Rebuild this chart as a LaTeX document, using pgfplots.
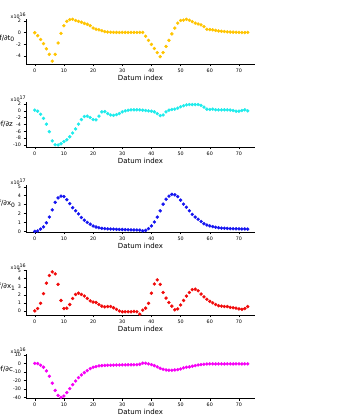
\documentclass[border=0pt]{standalone}
\usepackage{fontspec}
\setmainfont{DejaVu Sans}
\usepackage{pgfplots}
\pgfplotsset{compat=1.18}
\definecolor{cgold}{RGB}{255,196,0}
\definecolor{ccyan}{RGB}{30,235,235}
\definecolor{cblue}{RGB}{20,20,240}
\definecolor{cred}{RGB}{240,10,10}
\definecolor{cmag}{RGB}{245,0,245}
\newcommand{\ticksize}{\fontsize{4.8}{5}\selectfont}
\newcommand{\labsize}{\fontsize{7}{8}\selectfont}
\pgfplotsset{
  panel/.style={
    scale only axis, width=229pt, anchor=south west,
    axis lines=left, axis line style={-, line width=0.6pt},
    tick align=outside, major tick length=2.5pt,
    tick style={line width=0.5pt, black},
    xmin=-3, xmax=75.5, xtick={0,10,...,70},
    scaled ticks=false,
    tick label style={font=\ticksize},
    xticklabel style={yshift=1pt},
    yticklabel style={xshift=1pt},
    /pgf/number format/assume math mode=true,
    xlabel={Datum index},
    xlabel style={font=\labsize, yshift=4pt},
    only marks, mark=*, mark size=1.5pt, clip=false,
  },
}
\newcommand{\mult}[1]{\node[anchor=south east, inner sep=0pt, font=\ticksize] at (rel axis cs:0,1) {x10\raisebox{2.5pt}{#1}};}
\newcommand{\ylab}[2]{\node[anchor=center, inner sep=0pt, font=\labsize] at ([xshift=-21pt]rel axis cs:0,#1) {#2};}
\newcommand{\sub}[1]{\raisebox{-1.8pt}{\fontsize{6}{6}\selectfont #1}}

\begin{document}
\begin{tikzpicture}

% panel 1
\begin{axis}[panel, at={(26pt,353pt)}, height=45pt, ymin=-5.35, ymax=2.35, ytick={-4,-2,0,2}]
\addplot[mark=*, mark options={fill=cgold, draw=cgold}] coordinates {
(0,0) (1,-0.5) (2,-1.15) (3,-1.85) (4,-2.75) (5,-3.7) (6,-4.85) (7,-3.7) (8,-1.75) (9,-0.1)
(10,1.2) (11,1.95) (12,2.25) (13,2.3) (14,2.1) (15,1.95) (16,1.8) (17,1.6) (18,1.45) (19,1.2)
(20,0.8) (21,0.6) (22,0.5) (23,0.35) (24,0.2) (25,0.12) (26,0.08) (27,0.06) (28,0.05) (29,0.05)
(30,0.05) (31,0.05) (32,0.05) (33,0.05) (34,0.05) (35,0.05) (36,0.05) (37,0.05) (38,-0.6) (39,-1.3)
(40,-2.0) (41,-2.7) (42,-3.4) (43,-4.1) (44,-3.4) (45,-2.35) (46,-1.3) (47,-0.2) (48,0.8) (49,1.65)
(50,2.1) (51,2.15) (52,2.3) (53,2.15) (54,1.9) (55,1.65) (56,1.5) (57,1.35) (58,1.05) (59,0.6)
(60,0.55) (61,0.5) (62,0.4) (63,0.3) (64,0.25) (65,0.2) (66,0.15) (67,0.12) (68,0.1) (69,0.08)
(70,0.05) (71,0.03) (72,0.03) (73,0.05)
};
\mult{16}
\ylab{0.57}{∂f/∂t\sub{0}}
\end{axis}

% panel 2
\begin{axis}[panel, at={(26pt,270pt)}, height=45pt, ymin=-10.6, ymax=2.6, ytick={-10,-8,...,2}]
\addplot[mark=*, mark options={fill=ccyan, draw=ccyan}] coordinates {
(0,0.2) (1,-0.1) (2,-1.0) (3,-2.2) (4,-3.9) (5,-6.1) (6,-8.8) (7,-9.95) (8,-10.0) (9,-9.65)
(10,-9.0) (11,-8.5) (12,-7.6) (13,-6.5) (14,-5.3) (15,-3.9) (16,-2.55) (17,-1.65) (18,-1.55) (19,-1.95)
(20,-2.55) (21,-2.65) (22,-1.55) (23,-0.3) (24,-0.2) (25,-0.8) (26,-1.2) (27,-1.3) (28,-1.1) (29,-0.8)
(30,-0.3) (31,0) (32,0.2) (33,0.3) (34,0.3) (35,0.3) (36,0.3) (37,0.2) (38,0.1) (39,0)
(40,-0.1) (41,-0.3) (42,-0.8) (43,-1.4) (44,-1.2) (45,-0.3) (46,0.2) (47,0.4) (48,0.5) (49,0.8)
(50,1.2) (51,1.5) (52,1.75) (53,1.85) (54,1.85) (55,1.85) (56,1.85) (57,1.6) (58,1.1) (59,0.5)
(60,0.4) (61,0.5) (62,0.3) (63,0.3) (64,0.3) (65,0.3) (66,0.3) (67,0.25) (68,0.1) (69,-0.1)
(70,-0.1) (71,0.1) (72,0.3) (73,0)
};
\mult{17}
\ylab{0.51}{∂f/∂z}
\end{axis}

% panel 3
\begin{axis}[panel, at={(26pt,185pt)}, height=47pt, ymin=-0.08, ymax=5.2, ytick={0,...,5}]
\addplot[mark=*, mark options={fill=cblue, draw=cblue}] coordinates {
(0,0) (1,0.04) (2,0.25) (3,0.5) (4,0.95) (5,1.6) (6,2.4) (7,3.25) (8,3.75) (9,3.95)
(10,3.9) (11,3.55) (12,3.1) (13,2.65) (14,2.3) (15,1.95) (16,1.55) (17,1.25) (18,1.0) (19,0.8)
(20,0.6) (21,0.48) (22,0.4) (23,0.33) (24,0.3) (25,0.27) (26,0.25) (27,0.24) (28,0.22) (29,0.21)
(30,0.2) (31,0.18) (32,0.17) (33,0.16) (34,0.15) (35,0.15) (36,0.14) (37,0.05) (38,0.1) (39,0.3)
(40,0.6) (41,1.05) (42,1.6) (43,2.3) (44,3.05) (45,3.6) (46,3.95) (47,4.15) (48,4.1) (49,3.9)
(50,3.5) (51,3.05) (52,2.7) (53,2.3) (54,1.9) (55,1.6) (56,1.35) (57,1.1) (58,0.85) (59,0.7)
(60,0.6) (61,0.52) (62,0.45) (63,0.4) (64,0.36) (65,0.34) (66,0.32) (67,0.3) (68,0.29) (69,0.28)
(70,0.27) (71,0.26) (72,0.26) (73,0.25)
};
\mult{17}
\ylab{0.6}{∂f/∂x\sub{0}}
\end{axis}

% panel 4
\begin{axis}[panel, at={(26pt,102pt)}, height=45pt, ymin=-0.5, ymax=5.08, ytick={0,...,5}]
\addplot[mark=*, mark options={fill=cred, draw=cred}] coordinates {
(0,0) (1,0.3) (2,0.95) (3,2.15) (4,3.45) (5,4.4) (6,4.85) (7,4.6) (8,3.3) (9,1.3)
(10,0.3) (11,0.35) (12,0.8) (13,1.55) (14,2.05) (15,2.2) (16,2.05) (17,1.85) (18,1.55) (19,1.25)
(20,1.1) (21,1.05) (22,0.8) (23,0.6) (24,0.5) (25,0.55) (26,0.55) (27,0.4) (28,0.2) (29,0)
(30,-0.1) (31,-0.1) (32,-0.1) (33,-0.1) (34,-0.05) (35,-0.1) (36,-0.4) (37,0.1) (38,0.35) (39,0.95)
(40,2.2) (41,3.35) (42,3.85) (43,3.3) (44,2.3) (45,1.6) (46,1.05) (47,0.6) (48,0.15) (49,0.25)
(50,0.75) (51,1.3) (52,1.85) (53,2.3) (54,2.65) (55,2.7) (56,2.5) (57,2.1) (58,1.75) (59,1.45)
(60,1.2) (61,1.0) (62,0.8) (63,0.65) (64,0.6) (65,0.55) (66,0.55) (67,0.45) (68,0.4) (69,0.35)
(70,0.25) (71,0.2) (72,0.3) (73,0.55)
};
\mult{16}
\ylab{0.62}{∂f/∂x\sub{1}}
\end{axis}

% panel 5
\begin{axis}[panel, at={(26pt,19pt)}, height=44pt, ymin=-40.3, ymax=11.2, ytick={-40,-30,...,10}]
\addplot[mark=*, mark options={fill=cmag, draw=cmag}] coordinates {
(0,0.3) (1,0) (2,-2) (3,-4.3) (4,-8.6) (5,-14.9) (6,-23) (7,-31.4) (8,-37.3) (9,-39.6)
(10,-38) (11,-34) (12,-29.4) (13,-24.7) (14,-20.4) (15,-16.5) (16,-13.3) (17,-10.6) (18,-8.2) (19,-5.9)
(20,-4.3) (21,-3.5) (22,-2.7) (23,-2.4) (24,-2.2) (25,-2.0) (26,-1.9) (27,-1.8) (28,-1.7) (29,-1.6)
(30,-1.5) (31,-1.5) (32,-1.5) (33,-1.4) (34,-1.4) (35,-1.3) (36,-0.8) (37,0.5) (38,0.4) (39,-0.4)
(40,-1.2) (41,-2.4) (42,-3.9) (43,-5.5) (44,-6.7) (45,-7.5) (46,-7.8) (47,-7.8) (48,-7.5) (49,-7.1)
(50,-6.3) (51,-5.1) (52,-4.3) (53,-3.9) (54,-3.1) (55,-2.4) (56,-1.6) (57,-1.2) (58,-0.8) (59,-0.5)
(60,-0.4) (61,-0.4) (62,-0.4) (63,-0.4) (64,-0.4) (65,-0.4) (66,-0.4) (67,-0.4) (68,-0.4) (69,-0.4)
(70,-0.4) (71,-0.4) (72,-0.4) (73,-0.4)
};
\mult{16}
\ylab{0.66}{∂f/∂c}
\end{axis}

\pgfresetboundingbox
\useasboundingbox (0pt,0pt) rectangle (338pt,417pt);
\end{tikzpicture}
\end{document}
